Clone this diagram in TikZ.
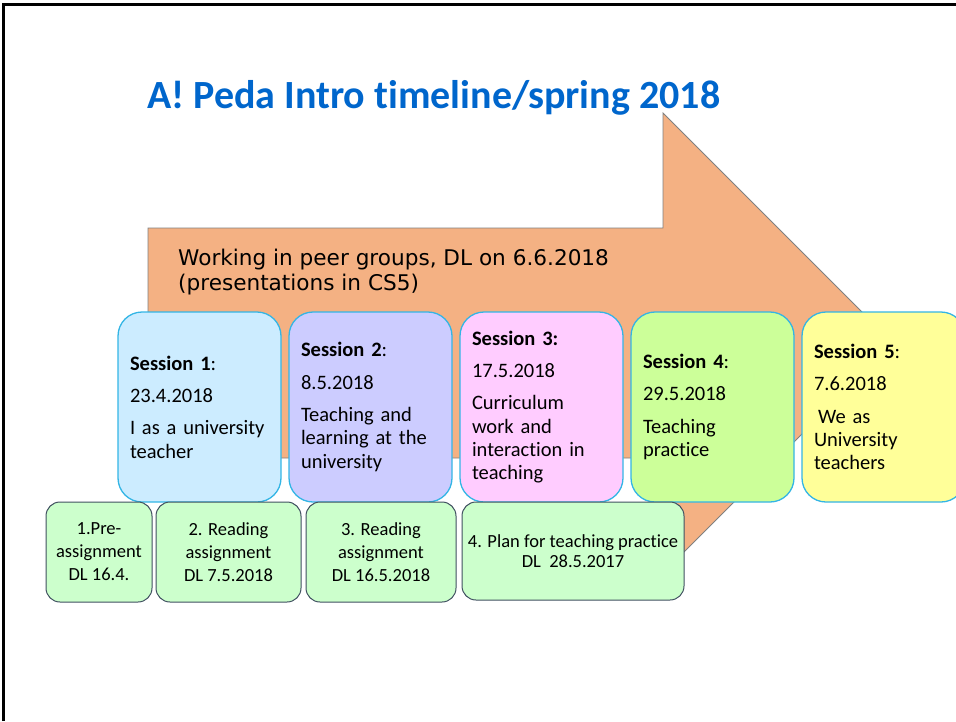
\documentclass[tikz,border=0pt]{standalone}
\usepackage{fontspec}
\setmainfont{Carlito}[Ligatures=NoCommon]
\newfontfamily\verdana{DejaVu Sans}
\usetikzlibrary{positioning}

\definecolor{titleblue}{RGB}{0,102,204}
\definecolor{arrowfill}{RGB}{244,177,131}
\definecolor{sessline}{RGB}{51,181,229}
\definecolor{sessA}{RGB}{204,236,255}
\definecolor{sessB}{RGB}{204,204,255}
\definecolor{sessC}{RGB}{255,204,255}
\definecolor{sessD}{RGB}{204,255,153}
\definecolor{sessE}{RGB}{255,255,153}
\definecolor{taskfill}{RGB}{204,255,204}
\definecolor{taskline}{RGB}{64,80,96}

\tikzset{
  session/.style={draw=sessline, line width=1.3pt, rounded corners=24pt,
    minimum width=163pt, minimum height=190pt, text width=139pt,
    inner sep=0pt, outer sep=0pt, align=left,
    font=\fontsize{20.5}{23.3}\selectfont},
  task/.style={draw=taskline, fill=taskfill, line width=1pt,
    rounded corners=14pt, minimum height=100pt, inner sep=0pt,
    outer sep=0pt, align=center, font=\fontsize{18.5}{23}\selectfont},
}

\begin{document}
\begin{tikzpicture}[x=1pt,y=-1pt]

\useasboundingbox (0,0) rectangle (956,721);
\draw[line width=2.5pt] (3.5,721) |- (956,4.5);

\node[anchor=base west, text=titleblue, inner sep=0pt,
  font=\fontsize{40}{48}\selectfont\bfseries] (title) at (147,108)
  {A! Peda Intro timeline/spring 2018};

% big arrow
\draw[draw=gray, line width=0.8pt, fill=arrowfill]
  (148,228) -- (663,228) -- (663,113) -- (893,343) -- (663,573)
  -- (663,458) -- (148,458) -- cycle;
\node[anchor=base west, inner sep=0pt, align=left,
  font=\verdana\fontsize{21.6}{25}\selectfont] (peer) at (178,290)
  {Working in peer groups, DL on 6.6.2018\\(presentations in CS5)};

% sessions
\node[session, fill=sessA, anchor=north west] (S1) at (118,312)
  {\textbf{Session 1}:\\[9pt] 23.4.2018\\[9pt] I as a university\\teacher};
\node[session, fill=sessB, right=8pt of S1] (S2)
  {\textbf{Session 2}:\\[9pt] 8.5.2018\\[9pt] Teaching and\\learning at the\\university};
\node[session, fill=sessC, right=8pt of S2] (S3)
  {\textbf{Session 3:}\\[9pt] 17.5.2018\\[9pt] Curriculum\\work and\\interaction in\\teaching};
\node[session, fill=sessD, right=8pt of S3] (S4)
  {\textbf{Session 4}:\\[9pt] 29.5.2018\\[9pt] Teaching\\practice};
\node[session, fill=sessE, right=8pt of S4] (S5)
  {\textbf{Session 5}:\\[9pt] 7.6.2018\\[9pt] \hspace{4pt}We as\\University\\teachers};

% assignments
\node[task, minimum width=106pt, anchor=north west] (T1) at (46,502)
  {1.Pre-\\assignment\\DL 16.4.};
\node[task, minimum width=145pt, right=4pt of T1] (T2)
  {2. Reading\\assignment\\DL 7.5.2018};
\node[task, minimum width=150pt, right=5pt of T2] (T3)
  {3. Reading\\assignment\\DL 16.5.2018};
\node[task, minimum width=222pt, minimum height=98pt, anchor=north west,
  font=\fontsize{18.5}{20.5}\selectfont] (T4) at (462,502)
  {4. Plan for teaching practice\\DL\ \ 28.5.2017};

\end{tikzpicture}
\end{document}
